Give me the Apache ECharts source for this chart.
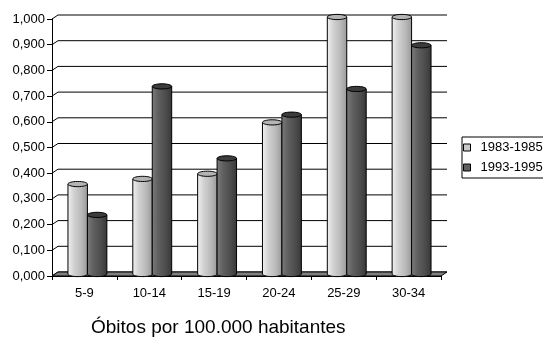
<!DOCTYPE html>
<html>
<head>
<meta charset="utf-8">
<script src="https://cdn.jsdelivr.net/npm/echarts@6/dist/echarts.min.js"></script>
<style>
  html, body { margin: 0; padding: 0; background: #fff; }
  #chart { width: 543px; height: 341px; }
</style>
</head>
<body>
<div id="chart"></div>
<script>
// Age groups and mortality rates (per 100.000 inhabitants)
const categories = ['5-9', '10-14', '15-19', '20-24', '25-29', '30-34'];
const rates8385 = [0.35, 0.37, 0.39, 0.59, 1.00, 1.00];
const rates9395 = [0.23, 0.73, 0.45, 0.62, 0.72, 0.89];
const seriesNames = ['1983-1985', '1993-1995'];
const yTicks = [0, 0.1, 0.2, 0.3, 0.4, 0.5, 0.6, 0.7, 0.8, 0.9, 1.0];
const axisTitle = 'Óbitos por 100.000 habitantes';

// Depth of the pseudo-3D box (back wall offset)
const DX = 6, DY = 4;
const FONT = 'Arial, "Liberation Sans", sans-serif';

const palettes = [
  { legend: '#c8c8c8', top: '#b4b4b4',
    side: [[0, '#f0f0f0'], [0.3, '#d2d2d2'], [0.7, '#b8b8b8'], [1, '#9a9a9a']] },
  { legend: '#606060', top: '#3c3c3c',
    side: [[0, '#7a7a7a'], [0.3, '#606060'], [0.7, '#4c4c4c'], [1, '#383838']] }
];

function grad(stops) {
  return { type: 'linear', x: 0, y: 0, x2: 1, y2: 0,
           colorStops: stops.map(s => ({ offset: s[0], color: s[1] })) };
}

// Back-wall grid lines with their slanted joins to the value axis
function renderWall(params, api) {
  const v = api.value(1);
  const band = api.size([1, 0])[0];
  const p0 = api.coord([0, v]);
  const p1 = api.coord([categories.length - 1, v]);
  const xl = p0[0] - band / 2, xr = p1[0] + band / 2, y = p0[1];
  return {
    type: 'polyline', silent: true,
    shape: { points: [[xl, y], [xl + DX, y - DY], [xr + DX, y - DY]] },
    style: { stroke: '#000', lineWidth: 1, fill: null }
  };
}

// Floor slab
function renderFloor(params, api) {
  const band = api.size([1, 0])[0];
  const p0 = api.coord([0, 0]);
  const p1 = api.coord([categories.length - 1, 0]);
  const xl = p0[0] - band / 2, xr = p1[0] + band / 2, y = p0[1];
  return {
    type: 'polygon', silent: true,
    shape: { points: [[xl, y], [xr, y], [xr + DX, y - DY], [xl + DX, y - DY]] },
    style: { fill: '#808080', stroke: '#000', lineWidth: 1 }
  };
}

// Cylinder bars
function cylinder(idx) {
  const pal = palettes[idx];
  return function (params, api) {
    const c = api.value(0), v = api.value(1);
    const band = api.size([1, 0])[0];
    const w = band * 0.30;
    const base = api.coord([c, 0]);
    const top = api.coord([c, v]);
    const cx = base[0] + DX / 2 + (idx === 0 ? -w / 2 : w / 2);
    const yb = base[1] - DY / 2, yt = top[1] - DY / 2;
    const rx = w / 2, ry = 2.6;
    const side = grad(pal.side);
    return {
      type: 'group', silent: true,
      children: [
        { type: 'ellipse', shape: { cx: cx, cy: yb, rx: rx, ry: ry },
          style: { fill: side, stroke: '#000', lineWidth: 1 } },
        { type: 'rect', shape: { x: cx - rx, y: yt, width: w, height: yb - yt },
          style: { fill: side } },
        { type: 'line', shape: { x1: cx - rx, y1: yt, x2: cx - rx, y2: yb },
          style: { stroke: '#000', lineWidth: 1 } },
        { type: 'line', shape: { x1: cx + rx, y1: yt, x2: cx + rx, y2: yb },
          style: { stroke: '#000', lineWidth: 1 } },
        { type: 'ellipse', shape: { cx: cx, cy: yt, rx: rx, ry: ry },
          style: { fill: pal.top, stroke: '#000', lineWidth: 1 } }
      ]
    };
  };
}

const chart = echarts.init(document.getElementById('chart'), null, { renderer: 'canvas' });

chart.setOption({
  animation: false,
  backgroundColor: '#fff',
  textStyle: { fontFamily: FONT },
  title: {
    text: axisTitle,
    left: 86, top: 313,
    textStyle: { fontSize: 19, fontWeight: 'normal', color: '#000', fontFamily: FONT }
  },
  legend: {
    orient: 'vertical',
    left: 462, top: 137,
    padding: [4, 8, 4, 1],
    itemWidth: 7, itemHeight: 7, itemGap: 7,
    borderColor: '#000', borderWidth: 1,
    selectedMode: false,
    textStyle: { fontSize: 13, color: '#000', fontFamily: FONT, padding: [0, 0, 0, 5] },
    data: seriesNames.map((n, i) => ({
      name: n, icon: 'rect',
      itemStyle: { color: palettes[i].legend, borderColor: '#000', borderWidth: 1 }
    }))
  },
  grid: { left: 52, right: 102, top: 19, bottom: 65, containLabel: false },
  xAxis: {
    type: 'category',
    data: categories,
    axisLine: { show: true, lineStyle: { color: '#000', width: 1 } },
    axisTick: { show: true, length: 4, lineStyle: { color: '#000' } },
    axisLabel: { fontSize: 13, color: '#000', margin: 11, fontFamily: FONT },
    splitLine: { show: false }
  },
  yAxis: {
    type: 'value',
    min: 0, max: 1, interval: 0.1,
    axisLine: { show: true, lineStyle: { color: '#000', width: 1 } },
    axisTick: { show: true, length: 5, lineStyle: { color: '#000' } },
    axisLabel: {
      fontSize: 13, color: '#000', margin: 7, fontFamily: FONT,
      formatter: v => v.toFixed(3).replace('.', ',')
    },
    splitLine: { show: false }
  },
  series: [
    { type: 'custom', name: 'wall', renderItem: renderWall, silent: true, z: 1,
      data: yTicks.map(v => [0, v]), encode: { x: 0, y: 1 }, clip: false },
    { type: 'custom', name: 'floor', renderItem: renderFloor, silent: true, z: 2,
      data: [[0, 0]], encode: { x: 0, y: 1 }, clip: false },
    { type: 'custom', name: seriesNames[0], renderItem: cylinder(0), z: 3,
      itemStyle: { color: palettes[0].legend },
      data: rates8385.map((v, i) => [i, v]), encode: { x: 0, y: 1 }, clip: false },
    { type: 'custom', name: seriesNames[1], renderItem: cylinder(1), z: 4,
      itemStyle: { color: palettes[1].legend },
      data: rates9395.map((v, i) => [i, v]), encode: { x: 0, y: 1 }, clip: false }
  ]
});
</script>
</body>
</html>
